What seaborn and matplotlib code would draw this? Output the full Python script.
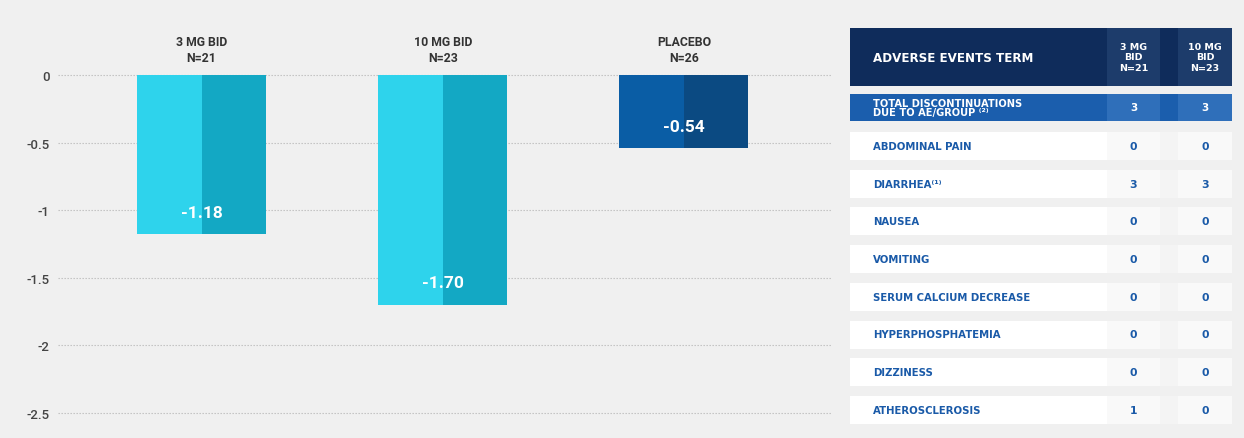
import matplotlib
matplotlib.use("Agg")
import matplotlib.pyplot as plt
from matplotlib.patches import Rectangle
import seaborn as sns
import pandas as pd

# ---------------- data ----------------
groups = ["3 MG BID", "10 MG BID", "PLACEBO"]
group_n = ["N=21", "N=23", "N=26"]
changes = [-1.18, -1.70, -0.54]
value_labels = ["-1.18", "-1.70", "-0.54"]
y_ticks = [0, -0.5, -1, -1.5, -2, -2.5]
y_tick_labels = ["0", "-0.5", "-1", "-1.5", "-2", "-2.5"]

ae_terms = ["ABDOMINAL PAIN", "DIARRHEA", "NAUSEA", "VOMITING",
            "SERUM CALCIUM DECREASE", "HYPERPHOSPHATEMIA", "DIZZINESS",
            "ATHEROSCLEROSIS"]
ae_sup = ["", "⁽¹⁾", "", "", "", "", "", ""]
ae_3mg = [0, 3, 0, 0, 0, 0, 0, 1]
ae_10mg = [0, 3, 0, 0, 0, 0, 0, 0]
total_3mg = 3
total_10mg = 3
table_cols = ["3 MG\nBID\nN=21", "10 MG\nBID\nN=23"]

# ---------------- style ----------------
sns.set_theme(style="white")
plt.rcParams["font.family"] = ["Roboto", "DejaVu Sans"]
plt.rcParams["axes.unicode_minus"] = False
TFONT = ["DejaVu Sans"]

BG = "#f0f0f0"
W, H = 1244, 439
fig = plt.figure(figsize=(W / 100, H / 100), dpi=100, facecolor=BG)

# ---------------- bar chart ----------------
ax = fig.add_axes([58 / W, 1 - 425 / H, (832 - 58) / W, (425 - 10) / H])
ax.set_facecolor(BG)

df = pd.DataFrame({
    "group": groups * 2,
    "half": ["a"] * 3 + ["b"] * 3,
    "value": changes * 2,
})
sns.barplot(data=df, x="group", y="value", hue="half", order=groups,
            hue_order=["a", "b"], width=0.535, dodge=True, gap=0,
            legend=False, ax=ax, zorder=3, linewidth=0)

light = ["#2ed3ec", "#2ed3ec", "#0a5da5"]
dark = ["#13a8c4", "#13a8c4", "#0b4a82"]
for p in ax.patches:
    xc = p.get_x() + p.get_width() / 2
    gi = int(round(xc))
    if xc < gi:
        p.set_facecolor(light[gi])
    else:
        p.set_facecolor(dark[gi])
    p.set_edgecolor("none")

ax.set_xlim(-0.595, 2.614)
ax.set_ylim(-2.585, 0.489)
ax.set_yticks(y_ticks)
ax.set_yticklabels(y_tick_labels, fontsize=9.5, color="#444444",
                   fontweight="medium")
ax.tick_params(axis="y", length=0, pad=6)
ax.set_xticks([])
ax.set_xlabel("")
ax.set_ylabel("")
for s in ax.spines.values():
    s.set_visible(False)
for yt in y_ticks:
    ax.axhline(yt, color="#bdbdbd", lw=0.8, ls=(0, (1.2, 1.5)), zorder=1)

for i, (g, n, v, lab) in enumerate(zip(groups, group_n, changes, value_labels)):
    ax.text(i, 0.19, f"{g}\n{n}", ha="center", va="center", fontsize=8.8,
            color="#333333", fontweight="bold", linespacing=1.3)
    ax.text(i, v + 0.16, lab, ha="center", va="center", fontsize=12.5,
            color="white", fontweight="bold")

# ---------------- table ----------------
tx = fig.add_axes([0, 0, 1, 1])
tx.set_xlim(0, W)
tx.set_ylim(H, 0)
tx.axis("off")
tx.patch.set_alpha(0)

x0, x1 = 850, 1232
c1a, c1b = 1107, 1160
c2a, c2b = 1178, 1232

# header
tx.add_patch(Rectangle((x0, 29), x1 - x0, 58, color="#0f2c5b", lw=0))
tx.add_patch(Rectangle((c1a, 29), c1b - c1a, 58, color="#1d3c6b", lw=0))
tx.add_patch(Rectangle((c2a, 29), c2b - c2a, 58, color="#1d3c6b", lw=0))
tx.text(873, 58, "ADVERSE EVENTS TERM", color="white", fontsize=8.6,
        fontweight="bold", va="center", ha="left", family=TFONT)
for cx, lab in zip([(c1a + c1b) / 2, (c2a + c2b) / 2], table_cols):
    tx.text(cx, 58, lab, color="white", fontsize=6.8, fontweight="bold",
            va="center", ha="center", linespacing=1.15, family=TFONT)

# total row
tx.add_patch(Rectangle((x0, 95), x1 - x0, 27, color="#1b5ead", lw=0))
tx.add_patch(Rectangle((c1a, 95), c1b - c1a, 27, color="#2f6fba", lw=0))
tx.add_patch(Rectangle((c2a, 95), c2b - c2a, 27, color="#2f6fba", lw=0))
tx.text(873, 108.5, "TOTAL DISCONTINUATIONS\nDUE TO AE/GROUP ⁽²⁾", color="white",
        fontsize=7.1, fontweight="bold", va="center", ha="left",
        linespacing=0.9, family=TFONT)
tx.text((c1a + c1b) / 2, 108.5, str(total_3mg), color="white", fontsize=7.5,
        fontweight="bold", va="center", ha="center", family=TFONT)
tx.text((c2a + c2b) / 2, 108.5, str(total_10mg), color="white", fontsize=7.5,
        fontweight="bold", va="center", ha="center", family=TFONT)

# AE rows
row_y0 = 147
row_step = 37.7
TXT = "#1a5aa8"
for k, (term, sup, a, b) in enumerate(zip(ae_terms, ae_sup, ae_3mg, ae_10mg)):
    yc = row_y0 + k * row_step
    tx.add_patch(Rectangle((x0, yc - 14), c1a - x0, 28, color="white", lw=0))
    tx.add_patch(Rectangle((c1a, yc - 14), c1b - c1a, 28, color="#f9f9f9", lw=0))
    tx.add_patch(Rectangle((c1b, yc - 14), c2a - c1b, 28, color="#f4f4f4", lw=0))
    tx.add_patch(Rectangle((c2a, yc - 14), c2b - c2a, 28, color="#f9f9f9", lw=0))
    tx.text(873, yc, term + sup, color=TXT, fontsize=7.3, fontweight="bold",
            va="center", ha="left", family=TFONT)
    tx.text((c1a + c1b) / 2, yc, str(a), color=TXT, fontsize=7.8,
            fontweight="bold", va="center", ha="center", family=TFONT)
    tx.text((c2a + c2b) / 2, yc, str(b), color=TXT, fontsize=7.8,
            fontweight="bold", va="center", ha="center", family=TFONT)

fig.savefig("out.png", dpi=100, facecolor=BG)
